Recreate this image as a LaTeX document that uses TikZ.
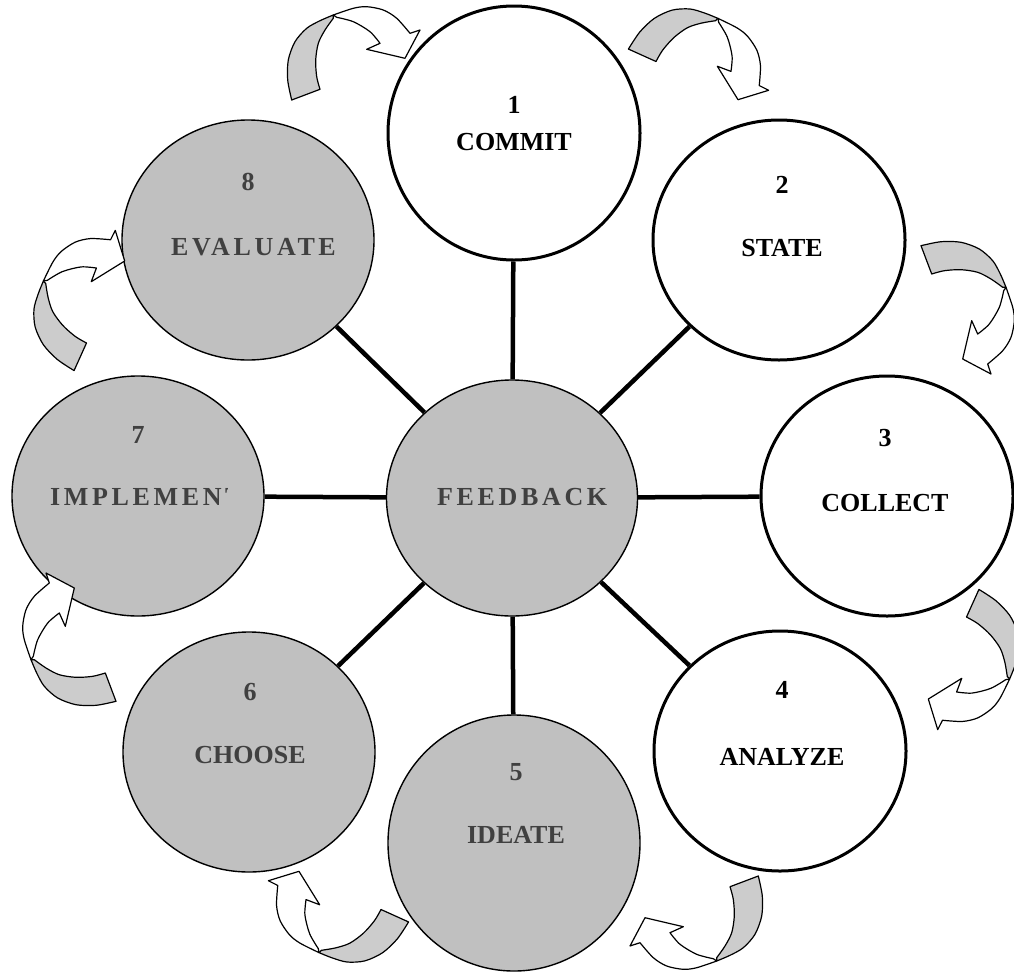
\documentclass[tikz,border=0pt]{standalone}
\usepackage{fontspec}
\setmainfont{Liberation Serif}
\newfontfamily\widefont[LetterSpace=14]{Liberation Serif}
\usetikzlibrary{shapes.geometric}
\definecolor{stagegrey}{HTML}{C0C0C0}
\definecolor{backgrey}{HTML}{CCCCCC}
\definecolor{inkgrey}{HTML}{404040}
\begin{document}
\begin{tikzpicture}[
    x=1pt,y=-1pt,
    stage/.style={ellipse,draw,line width=3pt,fill=white,minimum width=252pt,minimum height=240pt,inner sep=0pt},
    grey stage/.style={stage,line width=1.4pt,fill=stagegrey},
    spoke/.style={line width=4.5pt},
    lbl/.style={inner sep=0pt,font=\fontsize{26}{30}\selectfont\bfseries},
    grey lbl/.style={lbl,text=inkgrey},
    wide lbl/.style={inner sep=0pt,anchor=west,text=inkgrey,font=\fontsize{26}{30}\selectfont\widefont\bfseries},
    turnarrow/.pic={
        % back of the band
        \filldraw[fill=backgrey,line width=1.2pt,line join=round]
            (-63.3,45) -- (-35,34.3)
            -- plot[smooth] coordinates {(-35,34.3) (-38.3,21.7) (-39.3,5) (-36.7,-11.7) (-30,-25) (-21.7,-36.7)}
            -- (-21.7,-40)
            -- plot[smooth] coordinates {(-21.7,-40) (-35,-34.3) (-48.3,-26.7) (-60,-13.3) (-66.7,5) (-67.3,25) (-63.3,45)}
            -- cycle;
        % front of the band with its head
        \filldraw[fill=white,line width=1.2pt,line join=round]
            (-21.7,-40)
            -- plot[smooth] coordinates {(-21.7,-40) (-1.7,-46.7) (11.7,-48.3) (28.3,-45) (41.7,-36.7) (55,-21.7)}
            -- (65,-25) -- (50,3.3) -- (11.7,-5.7) -- (25,-11.7)
            -- plot[smooth] coordinates {(25,-11.7) (15,-23.3) (-1.7,-33.3) (-18.3,-37.7)}
            -- cycle;
    }
]
\useasboundingbox (0,0) rectangle (1014,975);

% stages
\node[stage,minimum height=254pt] (c1) at (514,133) {};
\node[stage] (c2) at (779,240) {};
\node[stage] (c3) at (887,496) {};
\node[stage] (c4) at (780,751) {};
\node[grey stage,minimum height=256pt] (c5) at (514,843) {};
\node[grey stage] (c6) at (249,752) {};
\node[grey stage] (c7) at (138,496) {};
\node[grey stage] (c8) at (248,240) {};
\node[grey stage,minimum width=251pt,minimum height=236pt] (fb) at (512,498) {};

% spokes
\draw[spoke] (fb) -- (c1);
\draw[spoke] (fb) -- (c2);
\draw[spoke] (fb) -- (c3);
\draw[spoke] (fb) -- (c4);
\draw[spoke] (fb) -- (c5);
\draw[spoke] (fb) -- (c6);
\draw[spoke] (fb) -- (c7);
\draw[spoke] (fb) -- (c8);

% labels
\node[lbl] (n1) at (514,105) {1};
\node[lbl] (t1) at (514,142) {COMMIT};
\node[lbl] (n2) at (782,185) {2};
\node[lbl] (t2) at (782,248) {STATE};
\node[lbl] (n3) at (885,438) {3};
\node[lbl] (t3) at (885,503) {COLLECT};
\node[lbl] (n4) at (782,690) {4};
\node[lbl] (t4) at (782,757) {ANALYZE};
\node[grey lbl] (n5) at (516,772) {5};
\node[grey lbl] (t5) at (516,835) {IDEATE};
\node[grey lbl] (n6) at (250,692) {6};
\node[grey lbl] (t6) at (250,755) {CHOOSE};
\node[grey lbl] (n7) at (138,435) {7};
\begin{scope}
    \clip (0,0) rectangle (227,975);
    \node[wide lbl] (t7) at (50,497) {IMPLEMENT};
\end{scope}
\node[grey lbl] (n8) at (248,182) {8};
\node[wide lbl] (t8) at (171,247) {EVALUATE};
\node[wide lbl] (tfb) at (437,497) {FEEDBACK};

% curved arrows between stages
\pic at (355,55) {turnarrow};
\pic[rotate=-45] at (705,62) {turnarrow};
\pic[rotate=-90] at (966,309) {turnarrow};
\pic[rotate=-135] at (966,666) {turnarrow};
\pic[rotate=-180] at (695,921) {turnarrow};
\pic[rotate=-225] at (332,909) {turnarrow};
\pic[rotate=-270] at (71,638) {turnarrow};
\pic[rotate=-315] at (87,294) {turnarrow};

\end{tikzpicture}
\end{document}
